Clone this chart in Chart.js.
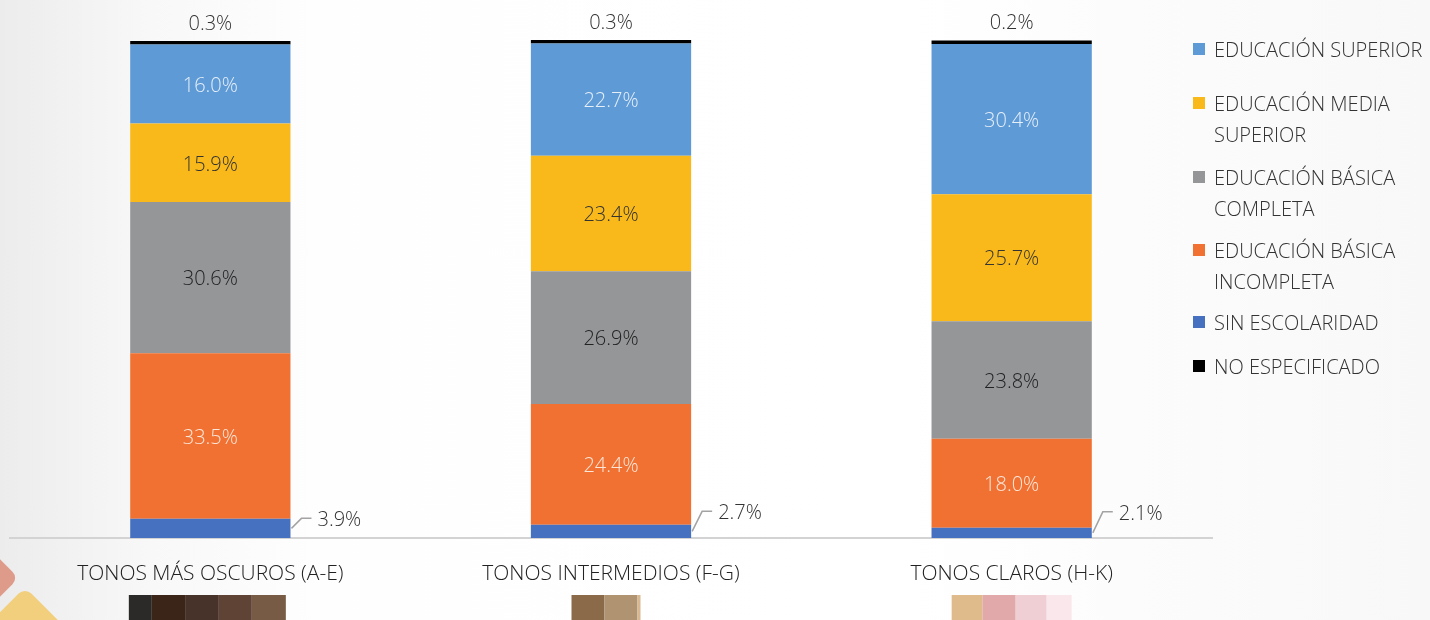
<!DOCTYPE html>
<html>
<head>
<meta charset="utf-8">
<title>Escolaridad por tono de piel</title>
<script src="https://cdn.jsdelivr.net/npm/chart.js@4/dist/chart.umd.min.js"></script>
<style>
  html, body { margin: 0; padding: 0; }
  body {
    width: 1430px; height: 620px; overflow: hidden; position: relative;
    background: linear-gradient(to right, #ececec 0px, #f8f8f8 150px, #fefefe 320px, #ffffff 900px, #f8f8f8 1430px);
  }
  .deco { position: absolute; width: 62px; height: 62px; border-radius: 9px; transform: rotate(45deg); }
  #deco1 { left: -56px; top: 547px; background: #df9b8a; }
  #deco2 { left: -6px; top: 600px; background: #f1cf7c; }
  #c { position: absolute; left: 0; top: 0; }
</style>
</head>
<body>
<div class="deco" id="deco1"></div>
<div class="deco" id="deco2"></div>
<canvas id="c" width="1430" height="620"></canvas>
<script>
var categories = ['TONOS MÁS OSCUROS (A-E)', 'TONOS INTERMEDIOS (F-G)', 'TONOS CLAROS (H-K)'];
var sinEscolaridad = [3.9, 2.7, 2.1];
var basicaIncompleta = [33.5, 24.4, 18.0];
var basicaCompleta = [30.6, 26.9, 23.8];
var mediaSuperior = [15.9, 23.4, 25.7];
var educSuperior = [16.0, 22.7, 30.4];
var noEspecificado = [0.3, 0.3, 0.2];

var FONT = "'Open Sans', 'Noto Sans', sans-serif";

// legend order as in the picture (top to bottom), index into datasets
var legendOrder = [4, 3, 2, 1, 0, 5];
var legendLines = {
    4: ['EDUCACIÓN SUPERIOR'],
    3: ['EDUCACIÓN MEDIA', 'SUPERIOR'],
    2: ['EDUCACIÓN BÁSICA', 'COMPLETA'],
    1: ['EDUCACIÓN BÁSICA', 'INCOMPLETA'],
    0: ['SIN ESCOLARIDAD'],
    5: ['NO ESPECIFICADO']
};
var legendY = [49, 103, 177, 250, 322, 366];

// skin tone swatches under each category
var swatches = [
    { dx: -3, w: [23, 34, 33, 33, 34], c: ['#2b2a28', '#3b2519', '#47332a', '#5f4335', '#775b45'] },
    { dx: -5, w: [33, 33, 3], c: ['#8a6a48', '#b09472', '#d8b890'] },
    { dx: 0, w: [31, 33, 31, 25], c: ['#dfba8b', '#e1a9a9', '#efcfd4', '#f9e7eb'] }
];

var labelPlugin = {
    id: 'labels',
    afterDatasetsDraw: function(chart) {
        var ctx = chart.ctx;
        ctx.save();
        ctx.font = '300 20px ' + FONT;
        ctx.textBaseline = 'middle';
        chart.data.datasets.forEach(function(ds, i) {
            var meta = chart.getDatasetMeta(i);
            meta.data.forEach(function(bar, j) {
                var p = bar.getProps(['x', 'y', 'base', 'width'], true);
                var txt = ds.data[j].toFixed(1) + '%';
                if (ds.labelMode == 'inside') {
                    ctx.fillStyle = ds.labelColor;
                    ctx.textAlign = 'center';
                    ctx.fillText(txt, p.x, (p.y + p.base) / 2 + 2);
                } else if (ds.labelMode == 'above') {
                    ctx.fillStyle = '#333';
                    ctx.textAlign = 'center';
                    ctx.fillText(txt, p.x, p.y - 17);
                } else if (ds.labelMode == 'callout') {
                    var rise = [10, 20, 21][j];
                    var x0 = p.x + p.width / 2 + 1;
                    var y0 = (p.y + p.base) / 2;
                    ctx.strokeStyle = '#a3a3a3';
                    ctx.lineWidth = 1.5;
                    ctx.beginPath();
                    ctx.moveTo(x0, y0);
                    ctx.lineTo(x0 + 10, y0 - rise);
                    ctx.lineTo(x0 + 20, y0 - rise);
                    ctx.stroke();
                    ctx.fillStyle = '#333';
                    ctx.textAlign = 'left';
                    ctx.fillText(txt, x0 + 26, y0 - rise + 2);
                }
            });
        });
        ctx.restore();
    }
};

var legendPlugin = {
    id: 'sideLegend',
    afterDraw: function(chart) {
        var ctx = chart.ctx;
        ctx.save();
        ctx.font = '300 20px ' + FONT;
        ctx.textBaseline = 'middle';
        ctx.textAlign = 'left';
        legendOrder.forEach(function(di, k) {
            var ds = chart.data.datasets[di];
            var y = legendY[k];
            ctx.fillStyle = ds.backgroundColor;
            ctx.fillRect(1193, y - 6, 12, 12);
            ctx.fillStyle = '#333';
            legendLines[di].forEach(function(line, n) {
                ctx.fillText(line, 1214, y + 2 + n * 31);
            });
        });
        ctx.restore();
    }
};

var swatchPlugin = {
    id: 'swatches',
    afterDraw: function(chart) {
        var ctx = chart.ctx;
        var xs = chart.scales.x;
        swatches.forEach(function(s, j) {
            var total = s.w.reduce(function(a, b) { return a + b; }, 0);
            var x = xs.getPixelForValue(j) + s.dx - total / 2;
            s.w.forEach(function(w, n) {
                ctx.fillStyle = s.c[n];
                ctx.fillRect(x, 595, w, 25);
                x += w;
            });
        });
    }
};

var ctx = document.getElementById('c');

var chart = new Chart(ctx, {
    type: 'bar',
    data: {
        labels: categories,
        datasets: [
            { label: 'SIN ESCOLARIDAD', data: sinEscolaridad, backgroundColor: '#4671c1', labelMode: 'callout' },
            { label: 'EDUCACIÓN BÁSICA INCOMPLETA', data: basicaIncompleta, backgroundColor: '#f07131', labelMode: 'inside', labelColor: '#fbe6da' },
            { label: 'EDUCACIÓN BÁSICA COMPLETA', data: basicaCompleta, backgroundColor: '#949698', labelMode: 'inside', labelColor: '#222' },
            { label: 'EDUCACIÓN MEDIA SUPERIOR', data: mediaSuperior, backgroundColor: '#f9b91b', labelMode: 'inside', labelColor: '#333' },
            { label: 'EDUCACIÓN SUPERIOR', data: educSuperior, backgroundColor: '#5d9ad6', labelMode: 'inside', labelColor: '#e6eef8' },
            { label: 'NO ESPECIFICADO', data: noEspecificado, backgroundColor: '#000000', labelMode: 'above', minBarLength: 3.5, clip: false }
        ]
    },
    options: {
        responsive: false,
        animation: false,
        layout: { padding: { top: 43, left: 10, right: 218, bottom: 0 } },
        datasets: { bar: { barPercentage: 0.4, categoryPercentage: 1 } },
        plugins: {
            legend: { display: false },
            tooltip: { enabled: false }
        },
        scales: {
            x: {
                stacked: true,
                grid: { display: false },
                border: { display: true, color: '#d3d3d3', width: 2 },
                ticks: { color: '#222', padding: 15, font: { family: FONT, size: 21, weight: '300' } },
                afterFit: function(scale) { scale.height = 82; }
            },
            y: {
                stacked: true,
                display: false,
                min: 0,
                max: 100.2
            }
        }
    },
    plugins: [labelPlugin, legendPlugin, swatchPlugin]
});
</script>
</body>
</html>
